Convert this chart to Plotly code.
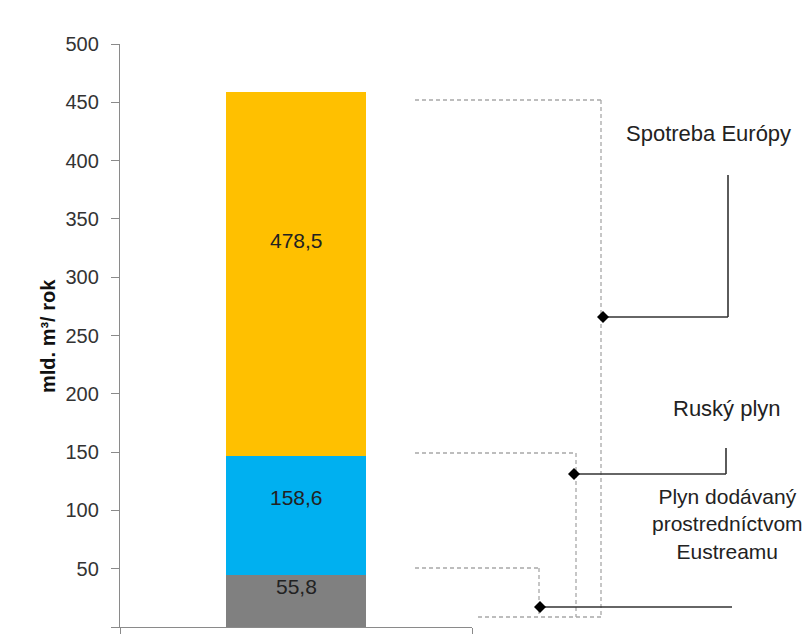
import plotly.graph_objects as go

# ---- data ----
category = ["Európa"]
series_names = ["Plyn dodávaný prostredníctvom Eustreamu", "Ruský plyn", "Spotreba Európy"]
segment_values = [45, 102, 312]          # stacked heights
segment_labels = ["55,8", "158,6", "478,5"]
segment_colors = ["#808080", "#00B0F0", "#FFC000"]
label_frac = [0.78, 0.65, 0.59]          # where the label sits inside each segment
y_ticks = [0, 50, 100, 150, 200, 250, 300, 350, 400, 450, 500]

W, H = 810, 634
L, R, T, B = 120, 0, 44, 7
FONT = "Liberation Sans, Arial, sans-serif"

def px(x):
    return (x - L) / (W - L - R)

def py(y):
    return (H - B - y) / (H - T - B)

fig = go.Figure()
for name, v, c in zip(series_names, segment_values, segment_colors):
    fig.add_trace(go.Bar(x=category, y=[v], name=name, marker=dict(color=c, line=dict(width=0)),
                         width=0.4, showlegend=False, hoverinfo="skip"))

annotations = []
base = 0
for v, lab, f in zip(segment_values, segment_labels, label_frac):
    annotations.append(dict(x=category[0], y=base + v * f, xref="x", yref="y", text=lab,
                            showarrow=False, font=dict(family=FONT, size=21, color="#222")))
    base += v

# y axis title
annotations.append(dict(x=px(48), y=py(336), xref="paper", yref="paper", text="<b>mld. m³/ rok</b>",
                        textangle=-90, showarrow=False, xanchor="center", yanchor="middle",
                        font=dict(family=FONT, size=20, color="#111")))

# side texts
side_texts = [("Spotreba Európy", 708, 133, 22), ("Ruský plyn", 727, 408, 22),
              ("Plyn dodávaný<br>prostredníctvom<br>Eustreamu", 727, 524, 21)]
for t, x, y, s in side_texts:
    annotations.append(dict(x=px(x), y=py(y), xref="paper", yref="paper", text=t, showarrow=False,
                            xanchor="center", yanchor="middle", align="center",
                            font=dict(family=FONT, size=s, color="#222")))

shapes = []
dash = dict(color="#a8a8a8", width=1.3, dash="4px,3px")
solid = dict(color="#333333", width=1.6)

def seg(x0, y0, x1, y1, line):
    shapes.append(dict(type="line", xref="paper", yref="paper", x0=px(x0), y0=py(y0),
                       x1=px(x1), y1=py(y1), line=line))

# dashed brackets
seg(415, 100, 601, 100, dash); seg(601, 100, 601, 617, dash)
seg(415, 453, 576, 453, dash); seg(576, 453, 576, 617, dash)
seg(415, 568, 539, 568, dash); seg(539, 568, 539, 617, dash)
seg(478, 617, 601, 617, dash)

# solid leader lines
seg(603, 317, 728, 317, solid); seg(728, 317, 728, 175, solid)
seg(574, 474, 726, 474, solid); seg(726, 474, 726, 448, solid)
seg(540, 607, 732, 607, solid)

def diamond(cx, cy, r=6):
    p = f"M {px(cx - r)},{py(cy)} L {px(cx)},{py(cy - r)} L {px(cx + r)},{py(cy)} L {px(cx)},{py(cy + r)} Z"
    shapes.append(dict(type="path", xref="paper", yref="paper", path=p,
                       fillcolor="#000", line=dict(color="#000", width=0)))

diamond(603, 317); diamond(574, 474); diamond(540, 607)

fig.update_layout(
    width=W, height=H, margin=dict(l=L, r=R, t=T, b=B, autoexpand=False),
    barmode="stack", bargap=0.6,
    paper_bgcolor="white", plot_bgcolor="white",
    xaxis=dict(domain=[0, px(472)], type="category", showticklabels=False, showline=True,
               linecolor="#8a8a8a", linewidth=1.3, ticks="outside", tickson="boundaries",
               ticklen=6, tickcolor="#8a8a8a", showgrid=False, zeroline=False),
    yaxis=dict(range=[0, 500], tickvals=y_ticks, showline=True, linecolor="#8a8a8a", linewidth=1.3,
               ticks="outside", ticklen=8, tickcolor="#8a8a8a", ticklabelstandoff=8,
               tickfont=dict(family=FONT, size=20, color="#333"), showgrid=False, zeroline=False),
    annotations=annotations, shapes=shapes,
)

fig.write_html("out.html")
